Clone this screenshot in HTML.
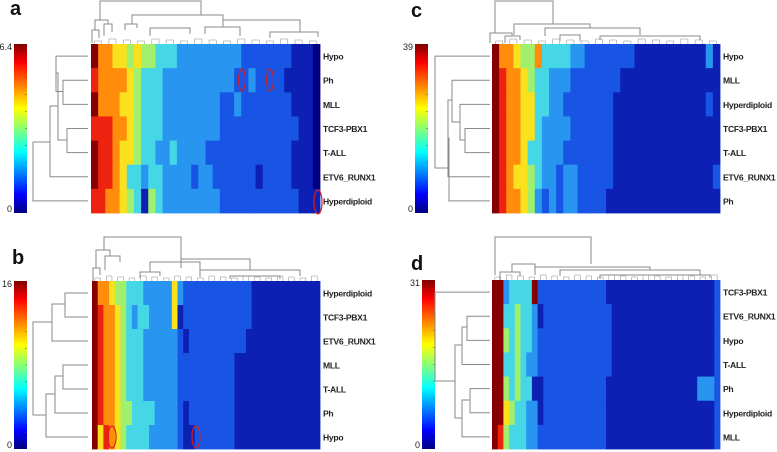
<!DOCTYPE html>
<html><head><meta charset="utf-8">
<style>
html,body{margin:0;padding:0;background:#fff;}
svg{display:block;font-family:"Liberation Sans",sans-serif;}
.lbl{font-size:8.6px;font-weight:bold;fill:#222;letter-spacing:-0.3px;}
.tk{font-size:9px;fill:#222;}
.pl{font-size:20px;font-weight:bold;fill:#111;}
</style></head>
<body>
<svg id="fig" width="777" height="452" viewBox="0 0 777 452">
<defs>
<linearGradient id="jet" x1="0" y1="1" x2="0" y2="0">
<stop offset="0" stop-color="#00007f"/><stop offset="0.11" stop-color="#0000ff"/>
<stop offset="0.36" stop-color="#00ffff"/><stop offset="0.62" stop-color="#ffff00"/>
<stop offset="0.89" stop-color="#ff0000"/><stop offset="1" stop-color="#7f0000"/>
</linearGradient>
</defs>
</svg>
<script>
// ---- data: group labels (rows) per panel ----
const rowsA = ["Hypo","Ph","MLL","TCF3-PBX1","T-ALL","ETV6_RUNX1","Hyperdiploid"];
const rowsB = ["Hyperdiploid","TCF3-PBX1","ETV6_RUNX1","MLL","T-ALL","Ph","Hypo"];
const rowsC = ["Hypo","MLL","Hyperdiploid","TCF3-PBX1","T-ALL","ETV6_RUNX1","Ph"];
const rowsD = ["TCF3-PBX1","ETV6_RUNX1","Hypo","T-ALL","Ph","Hyperdiploid","MLL"];
// ---- colorbar max values ----
const maxA = "6.4", maxB = "16", maxC = "39", maxD = "31";
// ---- heatmap values (0..9 scale, one digit per column) ----
const valsA = [
 "97766565 54443333 33333222 22221110",
 "87777654 44333333 33332232 22211110",
 "97776654 44333333 33223222 22221110",
 "88877654 44333333 33222222 22222110",
 "98876654 43343333 22222222 22221110",
 "98876443 44333323 32222221 22221110",
 "88776541 54333333 33222222 22222111"];
const valsC = [
 "97765574 44433222 22221111 11111131",
 "98776544 33322222 22111111 11111111",
 "98776644 33222222 21111111 11111121",
 "98776643 33322222 21111111 11111111",
 "98776443 33222222 21111111 11111111",
 "98766543 32332222 21111111 11111112",
 "98776532 32332222 11111111 11111111"];
const valsB = [
 "97765544 43333363 22222222 22221111 11111111",
 "98776543 44333361 22222222 22221111 11111111",
 "98776544 43333332 12222222 22211111 11111111",
 "98776544 43333332 22222222 21111111 11111111",
 "98776544 43333332 22222222 21111111 11111111",
 "98776554 44433332 12222222 21111111 11111111",
 "96876544 44333332 11222222 21111111 11111111"];
const valsD = [
 "99344449 22222222 22221111 11111111 11111112",
 "99445443 12222222 22222111 11111111 11111112",
 "99545443 22222222 22222111 11111111 11111112",
 "99445433 22222222 22222111 11111111 11111112",
 "99545441 12222222 22221111 11111111 11113332",
 "99654433 12222222 22221111 11111111 11111112",
 "98544433 22222222 22221111 11111111 11111112"];

const NS="http://www.w3.org/2000/svg";
const svg=document.getElementById('fig');
function mk(tag,attrs,parent){const e=document.createElementNS(NS,tag);for(const k in attrs)e.setAttribute(k,attrs[k]);(parent||svg).appendChild(e);return e;}
const PAL=["rgb(0,0,130)","rgb(12,32,180)","rgb(25,85,228)","rgb(40,150,240)","rgb(70,215,230)",
 "rgb(160,240,110)","rgb(250,225,30)","rgb(255,140,10)","rgb(238,35,15)","rgb(135,0,0)"];
function color(v){return PAL[Math.max(0,Math.min(9,v))];}

function panel(p){
 const g=mk('g',{});
 
 
 const L=mk('text',{x:p.lx,y:p.ly,class:'pl'},g);L.textContent=p.id;
 
 
 const cb=mk('rect',{x:p.cbx,y:p.y0,width:13,height:p.y1-p.y0,fill:'url(#jet)'},g);
 
 
 for(let i=1;i<10;i++){mk('line',{x1:p.cbx+11,x2:p.cbx+13,y1:p.y0+(p.y1-p.y0)*i/10,y2:p.y0+(p.y1-p.y0)*i/10,stroke:'#555','stroke-width':0.5},g);}
 const tmax=mk('text',{x:p.cbx-2,y:p.y0+6,class:'tk','text-anchor':'end'},g);tmax.textContent=p.max;
 
 
 const tmin=mk('text',{x:p.cbx-2,y:p.y1-1,class:'tk','text-anchor':'end'},g);tmin.textContent="0";
 
 
 const rows=p.vals.map(s=>s.replace(/ /g,''));
 const nc=rows[0].length,nr=rows.length;
 const cw=(p.x1-p.x0)/nc,rh=(p.y1-p.y0)/nr;
 const hm=mk('g',{},g);
 
 
 rows.forEach((r,i)=>{for(let j=0;j<nc;j++){
  const c=mk('rect',{x:(p.x0+j*cw).toFixed(2),y:(p.y0+i*rh).toFixed(2),width:(cw+0.4).toFixed(2),height:(rh+0.4).toFixed(2),fill:color(+r[j])},hm);
  
  
 }});
 p.rows.forEach((n,i)=>{const t=mk('text',{x:p.x1+3,y:p.y0+(i+0.5)*rh+3.5,class:'lbl'},g);t.textContent=n;
  
  });
 const dg=mk('g',{stroke:'#8a8a8a','stroke-width':1,fill:'none'},g);
 
 
 const rc=i=>p.y0+(i+0.5)*rh;
 p.rd.forEach(b=>{
  const ya=b[0]<10?rc(b[0]):b[0],yb=b[1]<10?rc(b[1]):b[1];
  mk('path',{d:`M${b[3]},${ya}H${b[2]}V${yb}H${b[4]}`},dg);});
 p.cd.forEach(b=>{
  mk('path',{d:`M${b[0]},${b[3]}V${b[2]}H${b[1]}V${b[4]}`},dg);});
 for(let j=0;j<nc;j+=2){const x=p.x0+(j+1)*cw;mk('path',{d:`M${x-cw*0.5},${p.y0}V${p.y0-3-(j%3)}H${x+cw*0.5}V${p.y0}`,'stroke-width':0.5},dg);}
 return g;
}
const R=88,Rc=490;
panel({id:'a',lx:10,ly:15,cbx:14,x0:91,x1:320,y0:44,y1:213,max:maxA,vals:valsA,rows:rowsA,
 rd:[[1,2,63,R,R],[0,91.5,56,R,63],[3,4,67,R,R],[73,140,58,56,67],[106,5,50,58,R],[142,6,33,50,R]],
 cd:[[100,201,1,20,15],[95,108,20,30,24],[92,99,30,43,38],[104,112,24,36,32],[132,223,15,24,20],[125,137,24,30,28],[150,190,28,36,34],[223,300,20,27,32],[205,240,27,34,36],[270,318,32,38,37]]});
panel({id:'c',lx:411,ly:17,cbx:415,x0:492,x1:720,y0:44,y1:213,max:maxC,vals:valsC,rows:rowsC,
 rd:[[3,4,465,Rc,Rc],[2,140,460,Rc,465],[1,122,452,Rc,460],[100,5,448,452,Rc],[138,6,449,448,Rc],[0,168,435,Rc,449]],
 cd:[[495,553,1,33,24],[490,512,33,43,36],[505,520,36,43,40],[514,590,24,35,28],[545,640,28,36,35],[600,700,36,40,40],[560,580,35,41,41]]});
panel({id:'b',lx:12,ly:264,cbx:14,x0:92,x1:320,y0:281,y1:449,max:maxB,vals:valsB,rows:rowsB,
 rd:[[0,1,65,R,R],[304,2,52,65,R],[3,4,63,R,R],[376,5,55,63,R],[394,6,46,55,R],[322,415,33,52,46]],
 cd:[[104,181,237,250,259],[96,110,250,268,256],[93,100,268,281,275],[105,120,256,270,262],[150,200,262,272,270],[140,160,272,278,276],[181,250,259,268,270],[200,300,270,277,276],[230,280,276,279,279]]});
panel({id:'d',lx:411,ly:270,cbx:422,x0:492,x1:720,y0:280,y1:449,max:maxD,vals:valsD,rows:rowsD,
 rd:[[1,2,467,Rc,Rc],[327,3,462,467,Rc],[4,5,470,Rc,Rc],[400,6,462,470,Rc],[345,418,455,462,462],[0,381,435,Rc,455]],
 cd:[[495,591,237,275,264],[512,535,264,272,267],[500,520,272,280,276],[535,650,267,275,270],[560,700,270,276,275],[600,710,275,279,278]]});

[[242,80,3.5,11],[270,80,3.5,11],[318,202,4,12],[112,437,4,11],[196,437,4,11]].forEach(e=>{
 const el=mk('ellipse',{cx:e[0],cy:e[1],rx:e[2],ry:e[3],fill:'none',stroke:'#d42020','stroke-width':1.2});
 
 
});
</script>
</body></html>
